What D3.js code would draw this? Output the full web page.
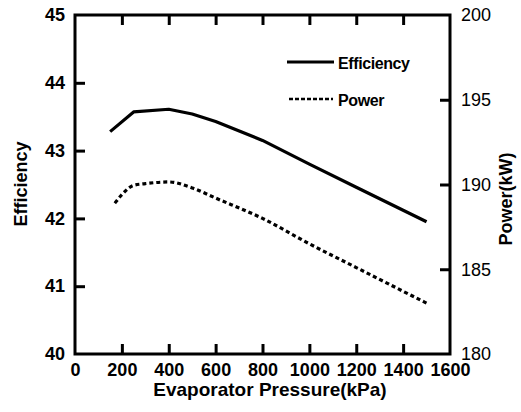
<!DOCTYPE html>
<html>
<head>
<meta charset="utf-8">
<script src="https://cdn.jsdelivr.net/npm/d3@7"></script>
<style>
body { margin: 0; background: #fff; }
text { font-family: "Liberation Sans", Arial, sans-serif; fill: #000; }
</style>
</head>
<body>
<div id="main_div"></div>
<script>
// values
var eff_pressure = [150, 250, 400, 500, 600, 800, 1000, 1200, 1400, 1500];
var efficiency = [43.28, 43.57, 43.61, 43.54, 43.43, 43.15, 42.80, 42.46, 42.12, 41.95];

var pow_pressure = [170, 200, 250, 300, 400, 500, 600, 800, 1000, 1200, 1400, 1500];
var power = [188.9, 189.4, 189.95, 190.05, 190.15, 189.8, 189.2, 188.0, 186.5, 185.1, 183.7, 183.0];

var x_ticks = [0, 200, 400, 600, 800, 1000, 1200, 1400, 1600];
var left_ticks = [40, 41, 42, 43, 44, 45];
var right_ticks = [180, 185, 190, 195, 200];

var eff_data = eff_pressure.map(function(p, i) { return {X: p, Y: efficiency[i]}; });
var pow_data = pow_pressure.map(function(p, i) { return {X: p, Y: power[i]}; });

var x_scale = d3.scaleLinear().domain([0, 1600]).range([75, 450]);
var y_scale = d3.scaleLinear().domain([40, 45]).range([354, 15]);
var y_scale_2 = d3.scaleLinear().domain([180, 200]).range([354, 15]);

var svg = d3.select("#main_div").append("svg").attr("width", 521).attr("height", 412);

// axes (ticks inward)
var g_x = svg.append("g").attr("transform", "translate(0,354)")
    .call(d3.axisBottom(x_scale).tickValues(x_ticks).tickSizeInner(-10).tickSizeOuter(0).tickPadding(9).tickFormat(d3.format("d")));
var g_top = svg.append("g").attr("transform", "translate(0,15)")
    .call(d3.axisTop(x_scale).tickValues(x_ticks.slice(1, -1)).tickSizeInner(-10).tickSizeOuter(0).tickFormat(""));
var g_y = svg.append("g").attr("transform", "translate(75,0)")
    .call(d3.axisLeft(y_scale).tickValues(left_ticks).tickSizeInner(-10).tickSizeOuter(0).tickPadding(10).tickFormat(d3.format("d")));
var g_y2 = svg.append("g").attr("transform", "translate(450,0)")
    .call(d3.axisRight(y_scale_2).tickValues(right_ticks).tickSizeInner(-10).tickSizeOuter(0).tickPadding(11).tickFormat(d3.format("d")));

[g_x, g_top, g_y, g_y2].forEach(function(g) {
    g.select(".domain").remove();
    g.selectAll(".tick line").attr("stroke", "#000").attr("stroke-width", 3);
    g.selectAll(".tick text").style("font-size", "18px").style("font-weight", "bold")
        .style("font-family", "'Liberation Sans', Arial, sans-serif");
});
// end ticks sit on the frame
g_x.selectAll(".tick line").filter(function(d) { return d == 0 || d == 1600; }).remove();
g_y.selectAll(".tick line").filter(function(d) { return d == 40 || d == 45; }).remove();
g_y2.selectAll(".tick line").filter(function(d) { return d == 180 || d == 200; }).remove();
g_y2.selectAll(".tick text").style("font-weight", "normal");

svg.append("rect").attr("x", 75).attr("y", 15).attr("width", 375).attr("height", 339)
    .attr("fill", "none").attr("stroke", "#000").attr("stroke-width", 3);

// lines
var line_1 = d3.line().x(function(d) { return x_scale(d.X); }).y(function(d) { return y_scale(d.Y); });
var line_2 = d3.line().curve(d3.curveMonotoneX)
    .x(function(d) { return x_scale(d.X); }).y(function(d) { return y_scale_2(d.Y); });

svg.append("path").datum(eff_data).attr("d", line_1)
    .attr("fill", "none").attr("stroke", "#000").attr("stroke-width", 3.2).attr("stroke-linejoin", "round");
svg.append("path").datum(pow_data).attr("d", line_2)
    .attr("fill", "none").attr("stroke", "#000").attr("stroke-width", 3.2).attr("stroke-dasharray", "4,3");

// legend
var leg = svg.append("g");
leg.append("line").attr("x1", 287).attr("x2", 334).attr("y1", 62).attr("y2", 62)
    .attr("stroke", "#000").attr("stroke-width", 3);
leg.append("text").attr("x", 338).attr("y", 69).attr("font-size", 16).attr("font-weight", "bold")
    .attr("letter-spacing", -0.4).text("Efficiency");
leg.append("line").attr("x1", 289).attr("x2", 333).attr("y1", 99).attr("y2", 99)
    .attr("stroke", "#000").attr("stroke-width", 2.5).attr("stroke-dasharray", "4,2");
leg.append("text").attr("x", 338).attr("y", 106).attr("font-size", 16).attr("font-weight", "bold")
    .attr("letter-spacing", -0.4).text("Power");

// axis titles
svg.append("text").attr("transform", "translate(27,184) rotate(-90)").attr("text-anchor", "middle")
    .attr("font-size", 18).attr("font-weight", "bold").text("Efficiency");
svg.append("text").attr("transform", "translate(512,199) rotate(-90)").attr("text-anchor", "middle")
    .attr("font-size", 18).attr("font-weight", "bold").text("Power(kW)");
svg.append("text").attr("x", 270).attr("y", 396).attr("text-anchor", "middle")
    .attr("font-size", 19).attr("font-weight", "bold").text("Evaporator Pressure(kPa)");
</script>
</body>
</html>
